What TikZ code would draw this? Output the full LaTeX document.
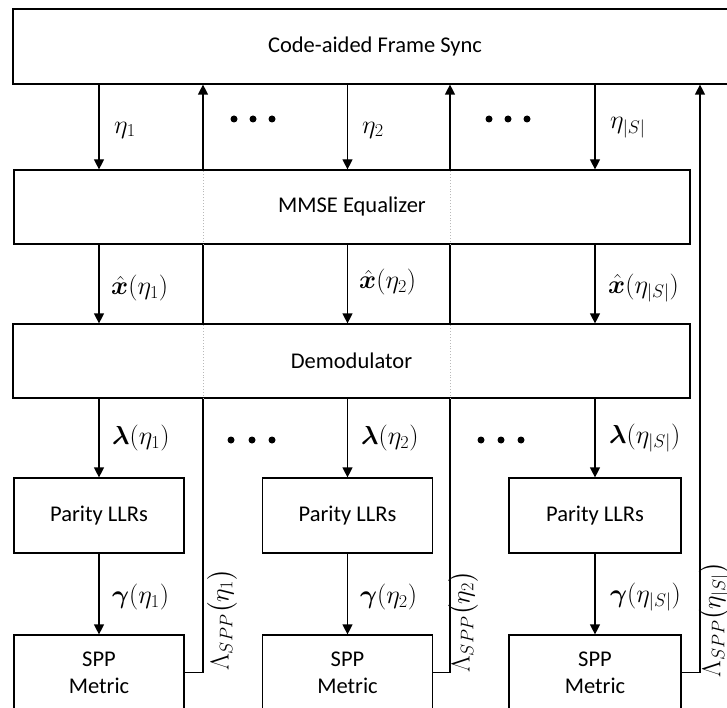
\RequirePackage{fix-cm}
\documentclass[tikz,border=0pt]{standalone}
\usepackage{amsmath,bm}
\usepackage{fontspec}
\setmainfont{Carlito}
\usetikzlibrary{arrows.meta,calc}

\begin{document}
\begin{tikzpicture}[x=1pt,y=-1pt,
  font=\fontsize{22.5}{27}\selectfont,
  block/.style={draw,line width=1.2pt,fill=white,inner sep=0pt,align=center},
  sig/.style={line width=1.2pt,-{Triangle[length=10pt,width=10pt]}},
  fbline/.style={line width=1.2pt},
  fbhidden/.style={draw=gray!55,line width=0.9pt,dotted},
  lbl/.style={anchor=west,inner sep=0pt,font=\fontsize{26}{30}\selectfont},
  rlbl/.style={rotate=90,inner sep=0pt,font=\fontsize{26}{30}\selectfont},
  dotmark/.style={circle,fill=black,inner sep=0pt,minimum size=7pt}]

\useasboundingbox (0,0) rectangle (727,708);
\clip (0,0) rectangle (727,708);

% processing blocks
\node[block,minimum width=724pt,minimum height=75pt] (sync) at (375,46.5) {Code-aided Frame Sync};
\node[block,minimum width=676pt,minimum height=74pt] (mmse) at (352,207) {MMSE Equalizer};
\node[block,minimum width=677pt,minimum height=74pt] (demod) at (351.5,361) {Demodulator};

\node[block,minimum width=170pt,minimum height=75pt] (par1) at (99,515.5) {Parity LLRs};
\node[block,minimum width=170pt,minimum height=75pt] (par2) at (347.5,515.5) {Parity LLRs};
\node[block,minimum width=172pt,minimum height=75pt] (par3) at (595,515.5) {Parity LLRs};

\node[block,minimum width=170pt,minimum height=75pt] (spp1) at (99,672.5) {SPP\\Metric};
\node[block,minimum width=170pt,minimum height=75pt] (spp2) at (347.5,672.5) {SPP\\Metric};
\node[block,minimum width=172pt,minimum height=75pt] (spp3) at (595,672.5) {SPP\\Metric};

% feedback columns
\coordinate (fb1) at (203,0);
\coordinate (fb2) at (450,0);
\coordinate (fb3) at (700,0);

% forward chains
\foreach \c in {1,2,3}{
  \draw[sig] (sync.south -| par\c) -- (mmse.north -| par\c);
  \draw[sig] (mmse.south -| par\c) -- (demod.north -| par\c);
  \draw[sig] (demod.south -| par\c) -- (par\c.north);
  \draw[sig] (par\c.south) -- (spp\c.north);
}

% metric feedback to the frame sync
\foreach \c in {1,2}{
  \draw[fbline] (spp\c.east) -| (demod.south -| fb\c);
  \draw[fbhidden] (demod.south -| fb\c) -- (demod.north -| fb\c);
  \draw[fbline] (demod.north -| fb\c) -- (mmse.south -| fb\c);
  \draw[fbhidden] (mmse.south -| fb\c) -- (mmse.north -| fb\c);
  \draw[sig] (mmse.north -| fb\c) -- (sync.south -| fb\c);
}
\draw[sig] (spp3.east) -| (sync.south -| fb3);

% signal labels
\node[lbl] (e1) at (114,130) {$\eta_1$};
\node[lbl] (e2) at (362,130) {$\eta_2$};
\node[lbl] (e3) at (610,128) {$\eta_{|S|}$};

\node[lbl] (x1) at (111,288) {$\hat{\bm{x}}(\eta_1)$};
\node[lbl] (x2) at (359,282) {$\hat{\bm{x}}(\eta_2)$};
\node[lbl] (x3) at (608,288) {$\hat{\bm{x}}(\eta_{|S|})$};

\node[lbl] (m1) at (112,438) {$\bm{\lambda}(\eta_1)$};
\node[lbl] (m2) at (361,438) {$\bm{\lambda}(\eta_2)$};
\node[lbl] (m3) at (609,438) {$\bm{\lambda}(\eta_{|S|})$};

\node[lbl] (g1) at (112,597) {$\bm{\gamma}(\eta_1)$};
\node[lbl] (g2) at (360,597) {$\bm{\gamma}(\eta_2)$};
\node[lbl] (g3) at (610,597) {$\bm{\gamma}(\eta_{|S|})$};

\node[rlbl] (s1) at (222,620) {$\Lambda_{SPP}\bigl(\eta_1\bigr)$};
\node[rlbl] (s2) at (463,622) {$\Lambda_{SPP}\bigl(\eta_2\bigr)$};
\node[rlbl] (s3) at (714,620) {$\Lambda_{SPP}\bigl(\eta_{|S|}\bigr)$};

% ellipsis dots between columns
\foreach \x/\n in {234/a,253/b,272/c,489/d,508/e,527/f}
  \node[dotmark] (u\n) at (\x,119) {};
\foreach \x/\n in {231/a,252/b,272/c,481/d,501/e,521/f}
  \node[dotmark] (w\n) at (\x,440) {};

\end{tikzpicture}
\end{document}
